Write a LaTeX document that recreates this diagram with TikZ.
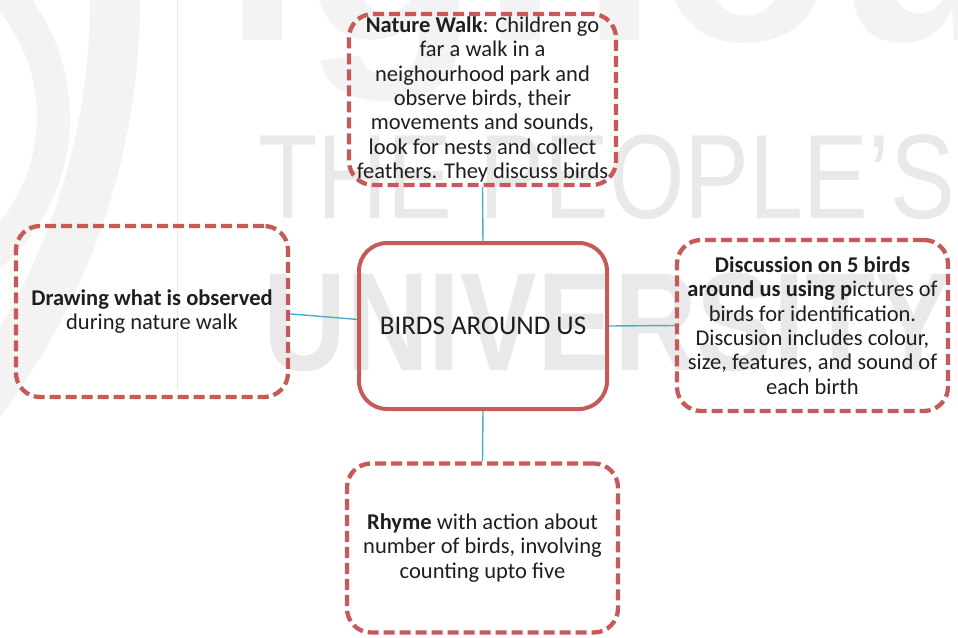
\documentclass[tikz,border=0pt]{standalone}
\usepackage{fontspec}
\setmainfont{Carlito}
\newfontfamily\wmfont{Liberation Sans}
\usetikzlibrary{calc}
\definecolor{boxred}{RGB}{197,90,88}
\definecolor{linkblue}{RGB}{75,172,198}
\definecolor{wmgray}{RGB}{233,233,233}
\definecolor{wmlight}{RGB}{243,243,243}
\definecolor{ink}{RGB}{30,30,30}

\begin{document}
\begin{tikzpicture}[x=1pt,y=-1pt,
  topic/.style={draw=boxred, line width=4.3pt, dash pattern=on 11pt off 5pt,
    rounded corners=24pt, inner sep=0pt, align=center, text=ink,
    font=\fontsize{22.5}{24.4}\selectfont},
  hub/.style={draw=boxred, line width=4pt, rounded corners=28pt, inner sep=0pt,
    text=ink, font=\fontsize{27}{30}\selectfont},
  link/.style={draw=linkblue, line width=1.4pt},
  wm/.style={text=wmgray, inner sep=0pt}]

\useasboundingbox (0,0) rectangle (958,637);

% faint background emblem and lettering
\begin{scope}
  \clip (0,0) rectangle (958,637);
  \draw[wmlight, line width=33pt] (-129,117) circle (182.5pt);
  \draw[wmlight, line width=50pt] (-550,0) circle (665pt);
  \draw[wmgray, line width=1pt] (177,0) -- (177,390);
  \node[wm, text=wmlight, anchor=base west] (wmlogo) at (222,40)
    {\wmfont\bfseries\fontsize{290}{290}\selectfont ignou};
  \node[wm, anchor=base west] (wmpeople) at (258,218)
    {\scalebox{0.81}[1]{\wmfont\fontsize{120}{120}\selectfont THE PEOPLE’S}};
  \node[wm, anchor=base west] (wmuniv) at (263,370)
    {\scalebox{0.82}[1]{\wmfont\bfseries\fontsize{140}{140}\selectfont UNIVERSITY}};
\end{scope}

% activity boxes
\node[topic, minimum width=267pt, minimum height=171pt] (walk) at (482.5,99.5)
  {\textbf{Nature Walk}: Children go\\ far a walk in a\\ neighourhood park and\\
   observe birds, their\\ movements and sounds,\\ look for nests and collect\\
   feathers. They discuss birds};
\node[topic, minimum width=272pt, minimum height=171pt] (sketch) at (152,311.5)
  {\textbf{Drawing what is observed}\\ during nature walk};
\node[topic, minimum width=271pt, minimum height=171pt] (discuss) at (812.5,325.5)
  {\textbf{Discussion on 5 birds}\\ \textbf{around us using p}ictures of\\
   birds for identification.\\ Discusion includes colour,\\
   size, features, and sound of\\ each birth};
\node[topic, minimum width=271pt, minimum height=169pt] (rhyme) at (482.5,548)
  {\textbf{Rhyme} with action about\\ number of birds, involving\\ counting upto five};

% central theme
\node[hub, minimum width=248pt, minimum height=166pt] (hub) at (483,326)
  {BIRDS AROUND US};

% connectors
\draw[link] (walk.south) -- (hub.north);
\draw[link] (sketch.-1.9) -- (hub.177.7);
\draw[link] (hub.east) -- (discuss.west);
\draw[link] (hub.south) -- (rhyme.north);
\end{tikzpicture}
\end{document}
